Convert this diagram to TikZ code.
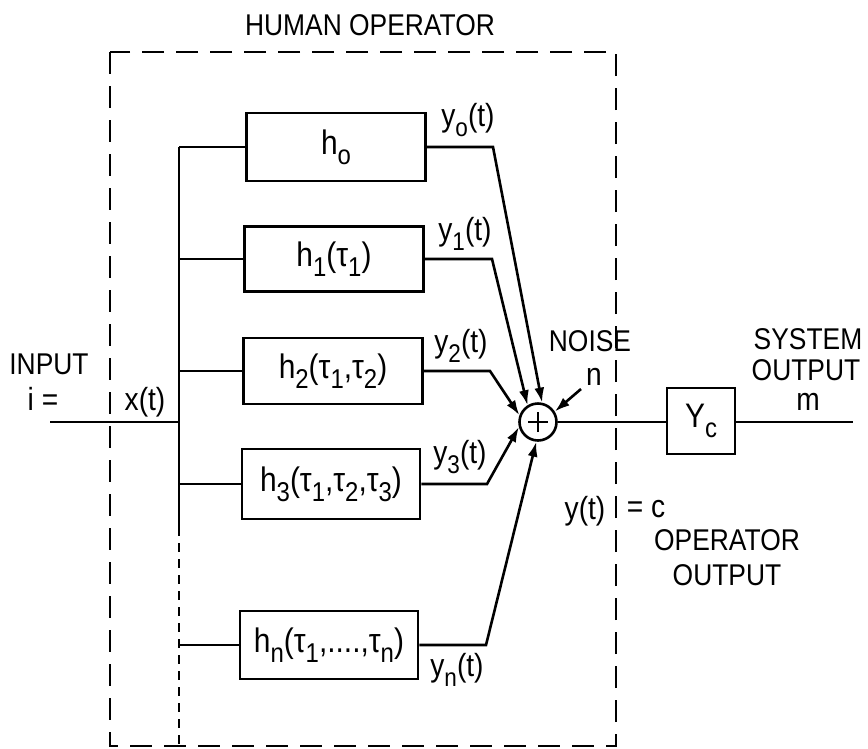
\documentclass[tikz,border=0pt]{standalone}
\usepackage{fontspec}
\setmainfont{Liberation Sans}[FakeStretch=0.88]
\usetikzlibrary{arrows.meta}
\newcommand\lo[1]{\raisebox{-0.3em}{\scalebox{0.8}{#1}}}
\begin{document}
\begin{tikzpicture}[x=1pt,y=-1pt,
  ln/.style={line width=2.6pt},
  blk/.style={draw,line width=2.6pt,minimum width=179pt,minimum height=68pt,inner sep=0pt,font=\fontsize{34}{36}\selectfont},
  lbl/.style={inner sep=0pt,font=\fontsize{32}{34}\selectfont},
  capl/.style={inner sep=0pt,font=\fontsize{30}{32}\selectfont},
  arr/.style={ln,-{Latex[length=15pt,width=10pt]}},
  frame/.style={line width=2.6pt,dash pattern=on 22pt off 12pt},
  busdash/.style={line width=2.6pt,dash pattern=on 9pt off 7pt},
]
\useasboundingbox (0,0) rectangle (868,748);

% dashed human operator frame
\draw[frame] (110,52) rectangle (616,746);
\node[capl] (title) at (370,25) {HUMAN OPERATOR};

% blocks
\node[blk] (h0) at (336,147) {h\lo{o}};
\node[blk,minimum height=65pt] (h1) at (334,259) {h\lo{1}(τ\lo{1})};
\node[blk,minimum height=66pt] (h2) at (333,371) {h\lo{2}(τ\lo{1},τ\lo{2})};
\node[blk,minimum width=178pt,minimum height=70pt] (h3) at (331,484) {h\lo{3}(τ\lo{1},τ\lo{2},τ\lo{3})};
\node[blk,minimum width=178pt,minimum height=68pt] (hn) at (329,645) {h\lo{n}(τ\lo{1},....,τ\lo{n})};

% bus
\coordinate (b0) at (179,147);
\coordinate (b1) at (179,259);
\coordinate (b2) at (179,371);
\coordinate (bx) at (179,422);
\coordinate (b3) at (179,484);
\coordinate (bsplit) at (179,527);
\coordinate (bn) at (179,645);
\coordinate (bbot) at (179,746);
\coordinate (in) at (50,422);

\draw[ln] (b0) -- (bsplit);
\draw[busdash] (bsplit) -- (bbot);
\draw[ln] (in) -- (bx);
\draw[ln] (b0) -- (h0.west);
\draw[ln] (b1) -- (h1.west);
\draw[ln] (b2) -- (h2.west);
\draw[ln] (b3) -- (h3.west);
\draw[ln] (bn) -- (hn.west);

% summing junction
\node[circle,draw,ln,minimum size=37pt,inner sep=0pt] (sum) at (538,422) {};
\draw[ln] ([xshift=-10pt]sum.center) -- ([xshift=10pt]sum.center);
\draw[ln] ([yshift=-10pt]sum.center) -- ([yshift=10pt]sum.center);

% branch outputs
\coordinate (k0) at (493,147);
\coordinate (k1) at (492,259);
\coordinate (k2) at (490,371);
\coordinate (k3) at (487,484);
\coordinate (kn) at (486,645);
\draw[arr] (h0.east) -- (k0) -- (sum.78);
\draw[arr] (h1.east) -- (k1) -- (sum.122);
\draw[arr] (h2.east) -- (k2) -- (sum.160);
\draw[arr] (h3.east) -- (k3) -- (sum.195);
\draw[arr] (hn.east) -- (kn) -- (sum.265);

\node[lbl] (ly0) at (468,120) {y\lo{o}(t)};
\node[lbl] (ly1) at (465,234) {y\lo{1}(t)};
\node[lbl] (ly2) at (461,346) {y\lo{2}(t)};
\node[lbl] (ly3) at (460,457) {y\lo{3}(t)};
\node[lbl] (lyn) at (457,670) {y\lo{n}(t)};

% noise
\coordinate (nz) at (581,389);
\draw[arr] (nz) -- (sum.32);
\node[capl] (noise) at (590,341) {NOISE};
\node[lbl] (nn) at (594,377) {n};

% controlled element
\node[draw,ln,minimum width=68pt,minimum height=66pt,inner sep=0pt,font=\fontsize{34}{36}\selectfont] (yc) at (701,421) {Y\lo{c}};
\coordinate (out) at (853,422);
\draw[ln] (sum.east) -- (yc.west |- sum.east);
\draw[ln] (yc.east |- out) -- (out);

\node[capl] (sys) at (808,339) {SYSTEM};
\node[capl] (sysout) at (806,370) {OUTPUT};
\node[lbl] (mm) at (808,402) {m};

% input
\node[capl] (inp) at (49,364) {INPUT};
\node[lbl] (ieq) at (43,399) {i =};
\node[lbl] (xt) at (145,402) {x(t)};

% operator output
\node[lbl] (yt) at (585,511) {y(t)};
\node[lbl] (eqc) at (646,509) {= c};
\node[capl] (opr) at (727,540) {OPERATOR};
\node[capl] (opout) at (727,575) {OUTPUT};
\end{tikzpicture}
\end{document}
